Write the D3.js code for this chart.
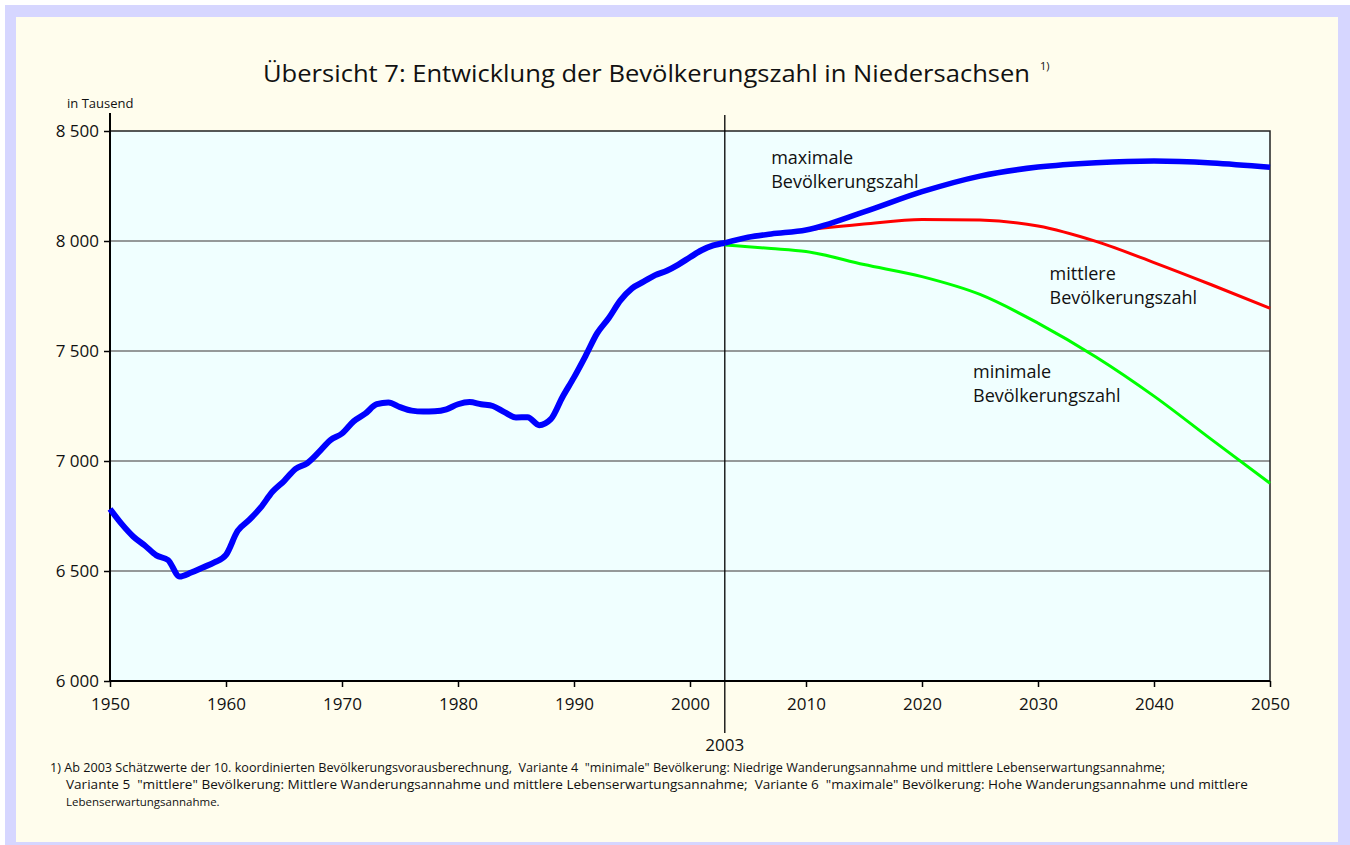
<!DOCTYPE html>
<html>
<head>
<meta charset="utf-8">
<script src="https://cdn.jsdelivr.net/npm/d3@7"></script>
<style>
  body { margin: 0; background: #fff; }
  text { font-family: "Open Sans", "Noto Sans", sans-serif; fill: #111; }
</style>
</head>
<body>
<svg id="chart" width="1350" height="845"></svg>
<script>
// Bevölkerung Niedersachsen in Tausend
var histYears = d3.range(1950, 2004);
var histValues = [6782, 6714, 6657, 6616, 6571, 6550, 6475, 6493, 6516, 6539,
  6573, 6682, 6732, 6789, 6860, 6909, 6964, 6990, 7040, 7095,
  7125, 7180, 7215, 7258, 7266, 7245, 7229, 7225, 7226, 7235,
  7258, 7268, 7258, 7250, 7222, 7198, 7199, 7163, 7190, 7290,
  7380, 7478, 7581, 7650, 7730, 7785, 7815, 7845, 7865, 7893,
  7926, 7958, 7980, 7991];

var projYears = [2003, 2005, 2007, 2010, 2015, 2020, 2025, 2030, 2035, 2040, 2045, 2050];
var maxValues = [7991, 8017, 8032, 8050, 8132, 8224, 8295, 8336, 8356, 8364, 8355, 8335];
var midValues = [7991, 8017, 8032, 8050, 8077, 8098, 8095, 8068, 7998, 7902, 7800, 7694];
var minValues = [7982, 7974, 7966, 7952, 7893, 7838, 7757, 7627, 7473, 7295, 7096, 6899];

var yTicks = [6000, 6500, 7000, 7500, 8000, 8500];
var xTicks = [1950, 1960, 1970, 1980, 1990, 2000, 2010, 2020, 2030, 2040, 2050];
var markYear = 2003;

var footnote = [
  "1) Ab 2003 Schätzwerte der 10. koordinierten Bevölkerungsvorausberechnung,  Variante 4  \"minimale\" Bevölkerung: Niedrige Wanderungsannahme und mittlere Lebenserwartungsannahme;",
  "Variante 5  \"mittlere\" Bevölkerung: Mittlere Wanderungsannahme und mittlere Lebenserwartungsannahme;  Variante 6  \"maximale\" Bevölkerung: Hohe Wanderungsannahme und mittlere",
  "Lebenserwartungsannahme."
];

var svg = d3.select("#chart");

// rahmen + hintergrund
svg.append("rect").attr("x", 5).attr("y", 5).attr("width", 1345).attr("height", 840).attr("fill", "#d6d6ff");
svg.append("rect").attr("x", 16).attr("y", 17).attr("width", 1322).attr("height", 825).attr("fill", "#fffded");

var margin = {left: 110, right: 1270, top: 131, bottom: 681};

var x = d3.scaleLinear().domain([1950, 2050]).range([margin.left, margin.right]);
var y = d3.scaleLinear().domain([6000, 8500]).range([margin.bottom, margin.top]);

// plotflaeche
svg.append("rect")
    .attr("x", x(1950)).attr("y", y(8500))
    .attr("width", x(2050) - x(1950)).attr("height", y(6000) - y(8500))
    .attr("fill", "#f0ffff");

// gitter
svg.append("g")
  .selectAll("line")
    .data(yTicks.slice(1, -1))
  .enter().append("line")
    .attr("x1", x(1950)).attr("x2", x(2050))
    .attr("y1", function(d){ return y(d); })
    .attr("y2", function(d){ return y(d); })
    .attr("stroke", "#777")
    .attr("stroke-width", 1.5);

// rahmen der plotflaeche (oben, rechts)
svg.append("path")
    .attr("d", "M" + x(1950) + "," + y(8500) + "H" + x(2050) + "V" + y(6000))
    .attr("fill", "none").attr("stroke", "#222").attr("stroke-width", 1.5);

// achsen
var yAxis = d3.axisLeft(y).tickValues(yTicks).tickSize(6).tickPadding(5)
    .tickFormat(function(d){ return d3.format(",")(d).replace(",", " "); });
var gy = svg.append("g").attr("transform", "translate(" + x(1950) + ",0)").call(yAxis);
gy.select(".domain").remove();
gy.selectAll(".tick line").attr("stroke", "#000").attr("stroke-width", 1.5);
gy.selectAll("text").style("font-size", "17px").attr("fill", "#111").attr("dy", "0.35em");

var xAxis = d3.axisBottom(x).tickValues(xTicks).tickSize(6).tickPadding(11).tickFormat(d3.format("d"));
var gx = svg.append("g").attr("transform", "translate(0," + y(6000) + ")").call(xAxis);
gx.select(".domain").remove();
gx.selectAll(".tick line").attr("stroke", "#000").attr("stroke-width", 1.5);
gx.selectAll("text").style("font-size", "17px").attr("fill", "#111");

svg.append("line")
    .attr("x1", x(1950)).attr("x2", x(2050))
    .attr("y1", y(6000)).attr("y2", y(6000))
    .attr("stroke", "#000").attr("stroke-width", 2);
svg.append("line")
    .attr("x1", x(1950)).attr("x2", x(1950))
    .attr("y1", y(8500) - 18).attr("y2", y(6000))
    .attr("stroke", "#000").attr("stroke-width", 2);

// markierung 2003
svg.append("line")
    .attr("x1", x(markYear)).attr("x2", x(markYear))
    .attr("y1", y(8500) - 16).attr("y2", y(6000) + 52)
    .attr("stroke", "#000").attr("stroke-width", 1.3);
svg.append("text")
    .attr("x", x(markYear)).attr("y", y(6000) + 70)
    .attr("text-anchor", "middle").style("font-size", "17px")
    .text(markYear);

// linien
var line = d3.line()
    .x(function(d){ return x(d[0]); })
    .y(function(d){ return y(d[1]); })
    .curve(d3.curveMonotoneX);

function series(years, values){ return years.map(function(yr, i){ return [yr, values[i]]; }); }

svg.append("path").datum(series(projYears, minValues))
    .attr("d", line).attr("fill", "none").attr("stroke", "#00ff00").attr("stroke-width", 3);
svg.append("path").datum(series(projYears, midValues))
    .attr("d", line).attr("fill", "none").attr("stroke", "#ff0000").attr("stroke-width", 3);
svg.append("path").datum(series(projYears, maxValues))
    .attr("d", line).attr("fill", "none").attr("stroke", "#0000ff").attr("stroke-width", 5.5);
svg.append("path").datum(series(histYears, histValues))
    .attr("d", line).attr("fill", "none").attr("stroke", "#0000ff").attr("stroke-width", 6)
    .attr("stroke-linejoin", "round");

// beschriftungen
var labels = [
  {t: ["maximale", "Bevölkerungszahl"], yr: 2007.0, v: 8352},
  {t: ["mittlere", "Bevölkerungszahl"], yr: 2031.0, v: 7823},
  {t: ["minimale", "Bevölkerungszahl"], yr: 2024.4, v: 7377}
];
labels.forEach(function(l){
  var tx = svg.append("text").attr("x", x(l.yr)).attr("y", y(l.v)).style("font-size", "18px");
  l.t.forEach(function(s, i){
    tx.append("tspan").attr("x", x(l.yr)).attr("dy", i == 0 ? 0 : 24).text(s);
  });
});

// titel
svg.append("text")
    .attr("x", 263).attr("y", 82)
    .style("font-size", "23px")
    .attr("textLength", 767).attr("lengthAdjust", "spacingAndGlyphs")
    .text("Übersicht 7: Entwicklung der Bevölkerungszahl in Niedersachsen");
svg.append("text")
    .attr("x", 1040).attr("y", 70)
    .style("font-size", "11px")
    .text("1)");

svg.append("text")
    .attr("x", 67).attr("y", 108)
    .style("font-size", "13px")
    .text("in Tausend");

// fussnote
var footLen = [1115, 1182, null];
svg.append("g").selectAll("text")
    .data(footnote)
  .enter().append("text")
    .attr("x", function(d, i){ return i == 0 ? 50 : 66; })
    .attr("y", function(d, i){ return 772 + i * 17; })
    .style("font-size", function(d, i){ return i == 2 ? "11.5px" : "12px"; })
    .attr("textLength", function(d, i){ return footLen[i]; })
    .attr("lengthAdjust", "spacingAndGlyphs")
    .attr("xml:space", "preserve")
    .style("white-space", "pre")
    .text(function(d){ return d; });
</script>
</body>
</html>
